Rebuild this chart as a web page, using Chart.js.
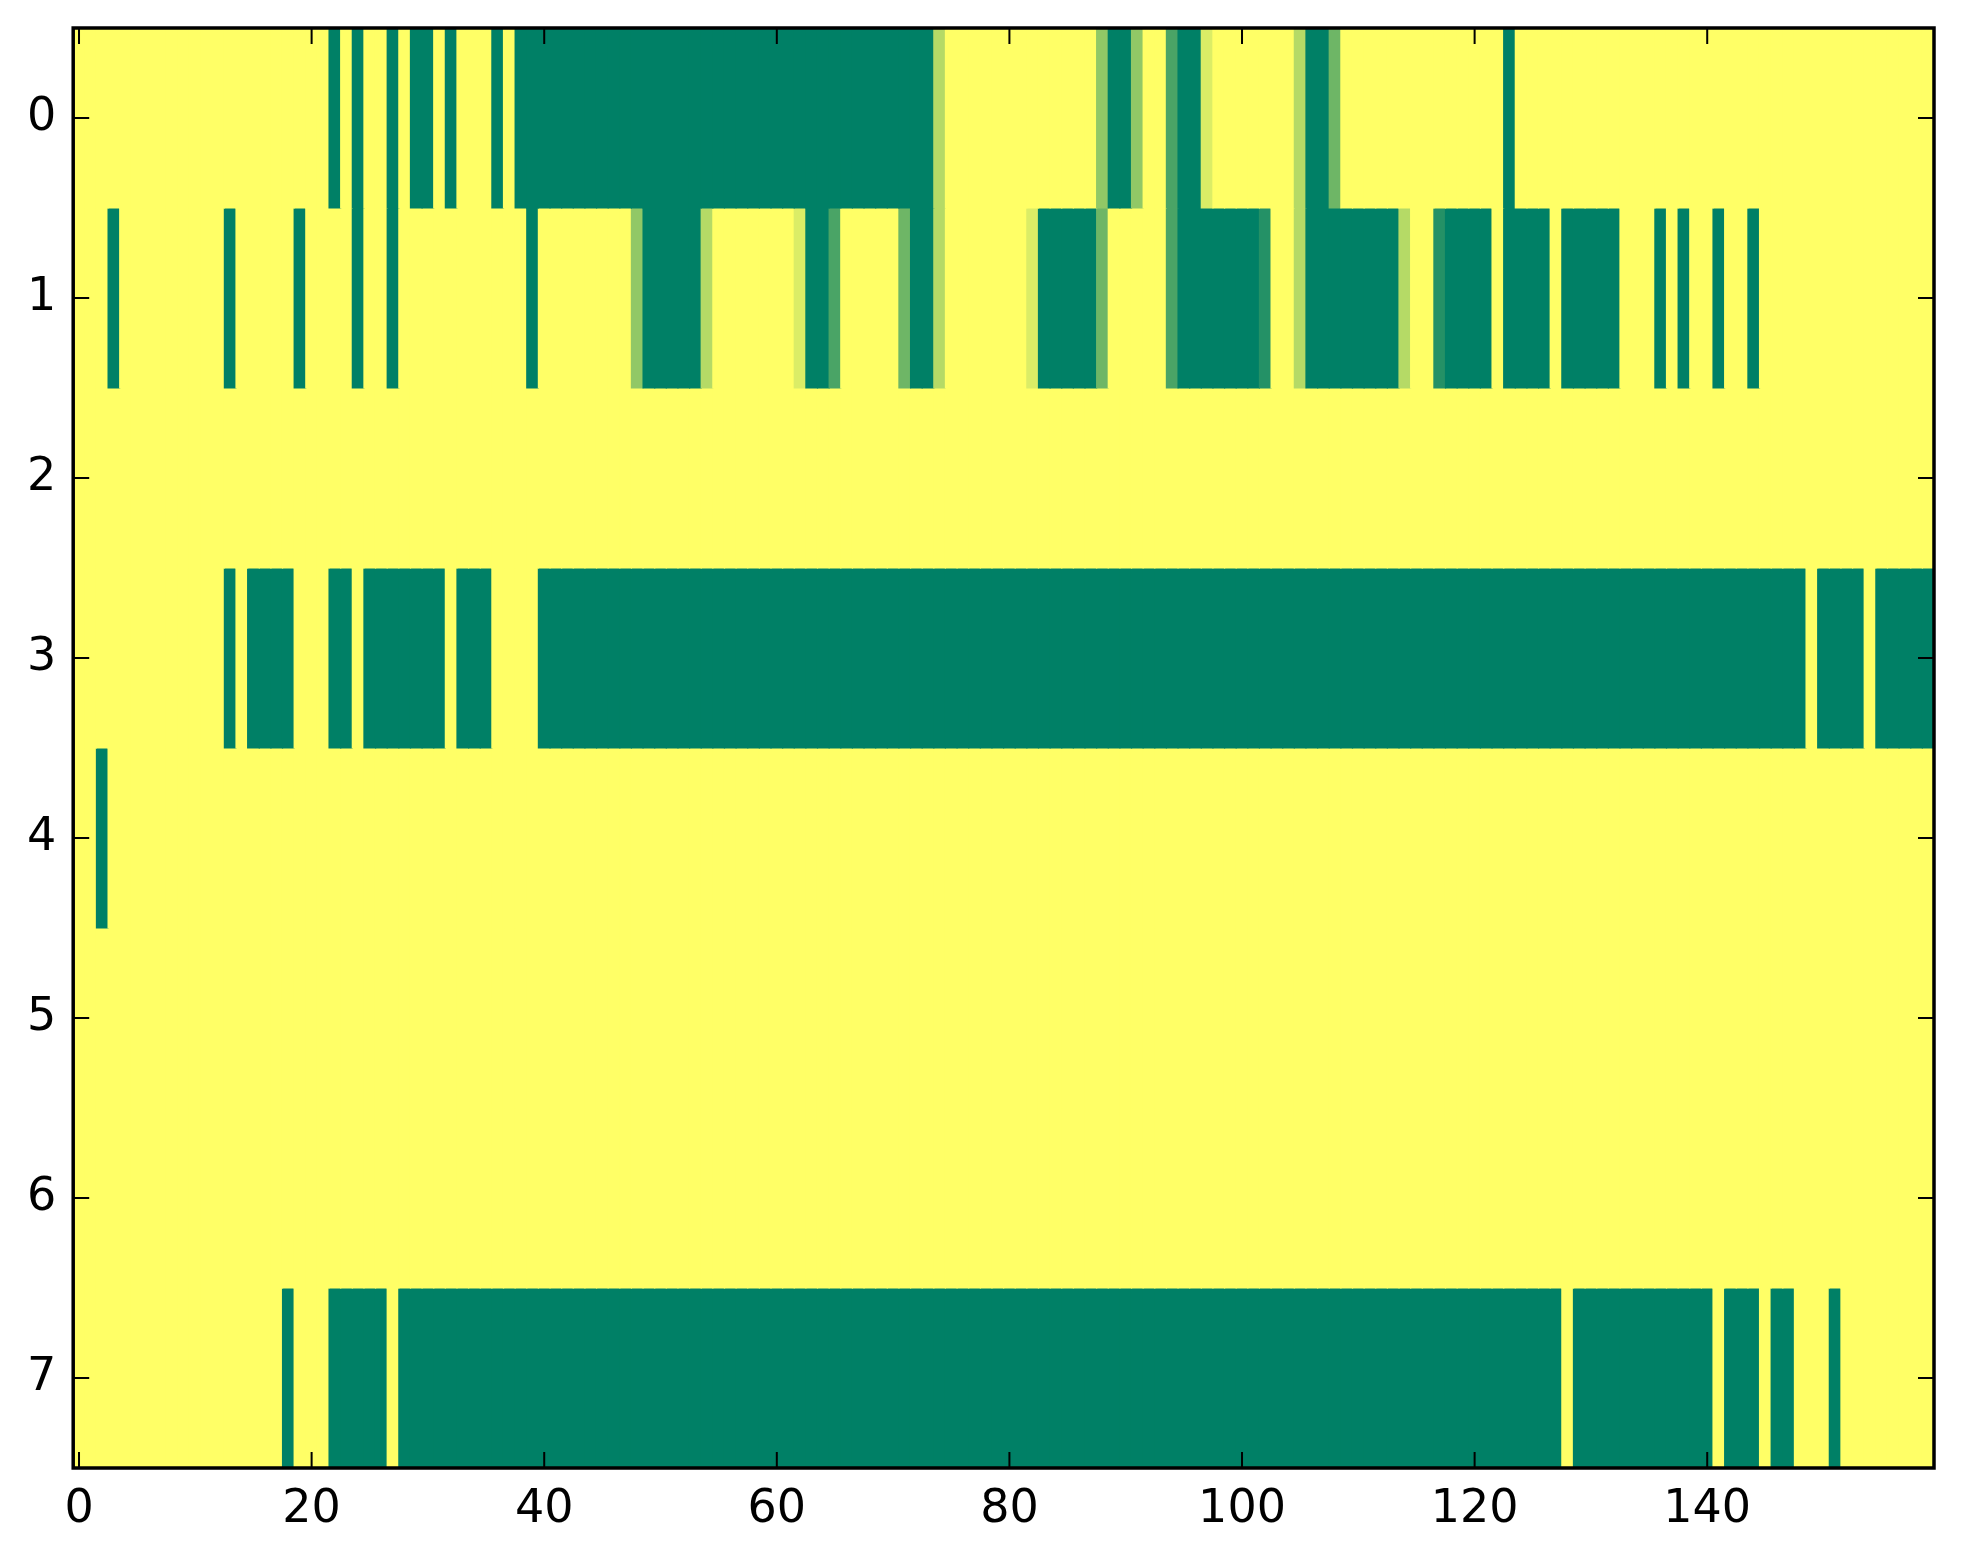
<!DOCTYPE html>
<html>
<head>
<meta charset="utf-8">
<script src="https://cdn.jsdelivr.net/npm/chart.js@4.4.1/dist/chart.umd.min.js"></script>
<style>
  html, body { margin: 0; padding: 0; background: #fff; }
</style>
</head>
<body>
<canvas id="heatChart" width="1963" height="1564"></canvas>
<script>
// tick labels
const rowLabels = [0, 1, 2, 3, 4, 5, 6, 7];
const xTicks = [0, 20, 40, 60, 80, 100, 120, 140];

// cell values, 160 columns per row (0 = green, 1 = yellow)
const row0 = [
  1,1,1,1,1,1,1,1,1,1,1,1,1,1,1,1,1,1,1,1,
  1,1,0,1,0,1,1,0,1,0,0,1,0,1,1,1,0,1,0,0,
  0,0,0,0,0,0,0,0,0,0,0,0,0,0,0,0,0,0,0,0,
  0,0,0,0,0,0,0,0,0,0,0,0,0,0,0.71,1,1,1,1,1,
  1,1,1,1,1,1,1,1,0.57,0,0,0.57,1,1,0.29,0,0,0.86,1,1,
  1,1,1,1,1,0.71,0,0,0.43,1,1,1,1,1,1,1,1,1,1,1,
  1,1,1,0,1,1,1,1,1,1,1,1,1,1,1,1,1,1,1,1,
  1,1,1,1,1,1,1,1,1,1,1,1,1,1,1,1,1,1,1,1
];
const row1 = [
  1,1,1,0,1,1,1,1,1,1,1,1,1,0,1,1,1,1,1,0,
  1,1,1,1,0,1,1,0,1,1,1,1,1,1,1,1,1,1,1,0,
  1,1,1,1,1,1,1,1,0.57,0,0,0,0,0,0.71,1,1,1,1,1,
  1,1,0.86,0,0,0.29,1,1,1,1,1,0.43,0,0,0.71,1,1,1,1,1,
  1,1,0.86,0,0,0,0,0,0.43,1,1,1,1,1,0.29,0,0,0,0,0,
  0,0,0.14,1,1,0.71,0,0,0,0,0,0,0,0,0.71,1,1,0.14,0,0,
  0,0,1,0,0,0,0,1,0,0,0,0,0,1,1,1,0,1,0,1,
  1,0,1,1,0,1,1,1,1,1,1,1,1,1,1,1,1,1,1,1
];
const row2 = [
  1,1,1,1,1,1,1,1,1,1,1,1,1,1,1,1,1,1,1,1,
  1,1,1,1,1,1,1,1,1,1,1,1,1,1,1,1,1,1,1,1,
  1,1,1,1,1,1,1,1,1,1,1,1,1,1,1,1,1,1,1,1,
  1,1,1,1,1,1,1,1,1,1,1,1,1,1,1,1,1,1,1,1,
  1,1,1,1,1,1,1,1,1,1,1,1,1,1,1,1,1,1,1,1,
  1,1,1,1,1,1,1,1,1,1,1,1,1,1,1,1,1,1,1,1,
  1,1,1,1,1,1,1,1,1,1,1,1,1,1,1,1,1,1,1,1,
  1,1,1,1,1,1,1,1,1,1,1,1,1,1,1,1,1,1,1,1
];
const row3 = [
  1,1,1,1,1,1,1,1,1,1,1,1,1,0,1,0,0,0,0,1,
  1,1,0,0,1,0,0,0,0,0,0,0,1,0,0,0,1,1,1,1,
  0,0,0,0,0,0,0,0,0,0,0,0,0,0,0,0,0,0,0,0,
  0,0,0,0,0,0,0,0,0,0,0,0,0,0,0,0,0,0,0,0,
  0,0,0,0,0,0,0,0,0,0,0,0,0,0,0,0,0,0,0,0,
  0,0,0,0,0,0,0,0,0,0,0,0,0,0,0,0,0,0,0,0,
  0,0,0,0,0,0,0,0,0,0,0,0,0,0,0,0,0,0,0,0,
  0,0,0,0,0,0,0,0,0,1,0,0,0,0,1,0,0,0,0,0
];
const row4 = [
  1,1,0,1,1,1,1,1,1,1,1,1,1,1,1,1,1,1,1,1,
  1,1,1,1,1,1,1,1,1,1,1,1,1,1,1,1,1,1,1,1,
  1,1,1,1,1,1,1,1,1,1,1,1,1,1,1,1,1,1,1,1,
  1,1,1,1,1,1,1,1,1,1,1,1,1,1,1,1,1,1,1,1,
  1,1,1,1,1,1,1,1,1,1,1,1,1,1,1,1,1,1,1,1,
  1,1,1,1,1,1,1,1,1,1,1,1,1,1,1,1,1,1,1,1,
  1,1,1,1,1,1,1,1,1,1,1,1,1,1,1,1,1,1,1,1,
  1,1,1,1,1,1,1,1,1,1,1,1,1,1,1,1,1,1,1,1
];
const row5 = [
  1,1,1,1,1,1,1,1,1,1,1,1,1,1,1,1,1,1,1,1,
  1,1,1,1,1,1,1,1,1,1,1,1,1,1,1,1,1,1,1,1,
  1,1,1,1,1,1,1,1,1,1,1,1,1,1,1,1,1,1,1,1,
  1,1,1,1,1,1,1,1,1,1,1,1,1,1,1,1,1,1,1,1,
  1,1,1,1,1,1,1,1,1,1,1,1,1,1,1,1,1,1,1,1,
  1,1,1,1,1,1,1,1,1,1,1,1,1,1,1,1,1,1,1,1,
  1,1,1,1,1,1,1,1,1,1,1,1,1,1,1,1,1,1,1,1,
  1,1,1,1,1,1,1,1,1,1,1,1,1,1,1,1,1,1,1,1
];
const row6 = [
  1,1,1,1,1,1,1,1,1,1,1,1,1,1,1,1,1,1,1,1,
  1,1,1,1,1,1,1,1,1,1,1,1,1,1,1,1,1,1,1,1,
  1,1,1,1,1,1,1,1,1,1,1,1,1,1,1,1,1,1,1,1,
  1,1,1,1,1,1,1,1,1,1,1,1,1,1,1,1,1,1,1,1,
  1,1,1,1,1,1,1,1,1,1,1,1,1,1,1,1,1,1,1,1,
  1,1,1,1,1,1,1,1,1,1,1,1,1,1,1,1,1,1,1,1,
  1,1,1,1,1,1,1,1,1,1,1,1,1,1,1,1,1,1,1,1,
  1,1,1,1,1,1,1,1,1,1,1,1,1,1,1,1,1,1,1,1
];
const row7 = [
  1,1,1,1,1,1,1,1,1,1,1,1,1,1,1,1,1,1,0,1,
  1,1,0,0,0,0,0,1,0,0,0,0,0,0,0,0,0,0,0,0,
  0,0,0,0,0,0,0,0,0,0,0,0,0,0,0,0,0,0,0,0,
  0,0,0,0,0,0,0,0,0,0,0,0,0,0,0,0,0,0,0,0,
  0,0,0,0,0,0,0,0,0,0,0,0,0,0,0,0,0,0,0,0,
  0,0,0,0,0,0,0,0,0,0,0,0,0,0,0,0,0,0,0,0,
  0,0,0,0,0,0,0,0,1,0,0,0,0,0,0,0,0,0,0,0,
  0,1,0,0,0,1,0,0,1,1,1,0,1,1,1,1,1,1,1,1
];
const rows = [row0, row1, row2, row3, row4, row5, row6, row7];

// matplotlib "summer" colormap
function summer(v) {
  const r = Math.round(255 * v);
  const g = Math.round(255 * (0.5 + 0.5 * v));
  return 'rgb(' + r + ',' + g + ',102)';
}

const datasets = rows.map(function(vals, r) {
  return {
    label: 'row ' + r,
    data: vals.map(function(v, c) { return { x: c, y: [r - 0.5, r + 0.5] }; }),
    backgroundColor: vals.map(summer),
    borderWidth: 0,
    barPercentage: 1,
    categoryPercentage: 1,
    grouped: false,
    inflateAmount: 0.6
  };
});

// frame + inward tick marks on all four sides
const framePlugin = {
  id: 'frame',
  afterDraw: function(chart) {
    const ctx = chart.ctx;
    const a = chart.chartArea;
    const xs = chart.scales.x, ys = chart.scales.y;
    const len = 16;
    ctx.save();
    ctx.strokeStyle = '#000';
    ctx.lineWidth = 2;
    ctx.beginPath();
    xTicks.forEach(function(t) {
      const px = xs.getPixelForValue(t);
      ctx.moveTo(px, a.bottom); ctx.lineTo(px, a.bottom - len);
      ctx.moveTo(px, a.top); ctx.lineTo(px, a.top + len);
    });
    rowLabels.forEach(function(t) {
      const py = ys.getPixelForValue(t);
      ctx.moveTo(a.left, py); ctx.lineTo(a.left + len, py);
      ctx.moveTo(a.right, py); ctx.lineTo(a.right - len, py);
    });
    ctx.stroke();
    ctx.lineWidth = 3.5;
    ctx.strokeRect(a.left, a.top, a.right - a.left, a.bottom - a.top);
    ctx.restore();
  }
};

const heatCtx = document.getElementById('heatChart').getContext('2d');
const heatChart = new Chart(heatCtx, {
  type: 'bar',
  data: { datasets: datasets },
  plugins: [framePlugin],
  options: {
    responsive: false,
    devicePixelRatio: 1,
    animation: false,
    layout: { padding: { top: 28, right: 29, left: 0, bottom: 0 } },
    plugins: {
      legend: { display: false },
      tooltip: { enabled: false }
    },
    scales: {
      x: {
        type: 'linear',
        min: -0.5,
        max: 159.5,
        offset: false,
        grid: { display: false, drawTicks: false },
        border: { display: false },
        afterBuildTicks: function(axis) { axis.ticks = xTicks.map(function(v) { return { value: v }; }); },
        afterFit: function(axis) {
          axis.height = 96;
          axis.paddingLeft = 0;
          axis.paddingRight = 0;
        },
        ticks: {
          autoSkip: false,
          maxRotation: 0,
          padding: 14,
          color: '#000',
          font: { family: 'DejaVu Sans', size: 46 }
        }
      },
      y: {
        type: 'linear',
        reverse: true,
        min: -0.5,
        max: 7.5,
        offset: false,
        grid: { display: false, drawTicks: false },
        border: { display: false },
        afterBuildTicks: function(axis) { axis.ticks = rowLabels.map(function(v) { return { value: v }; }); },
        afterFit: function(axis) {
          axis.width = 73.2;
          axis.paddingTop = 0;
          axis.paddingBottom = 0;
        },
        ticks: {
          autoSkip: false,
          padding: 17,
          color: '#000',
          font: { family: 'DejaVu Sans', size: 46 }
        }
      }
    }
  }
});
</script>
</body>
</html>
